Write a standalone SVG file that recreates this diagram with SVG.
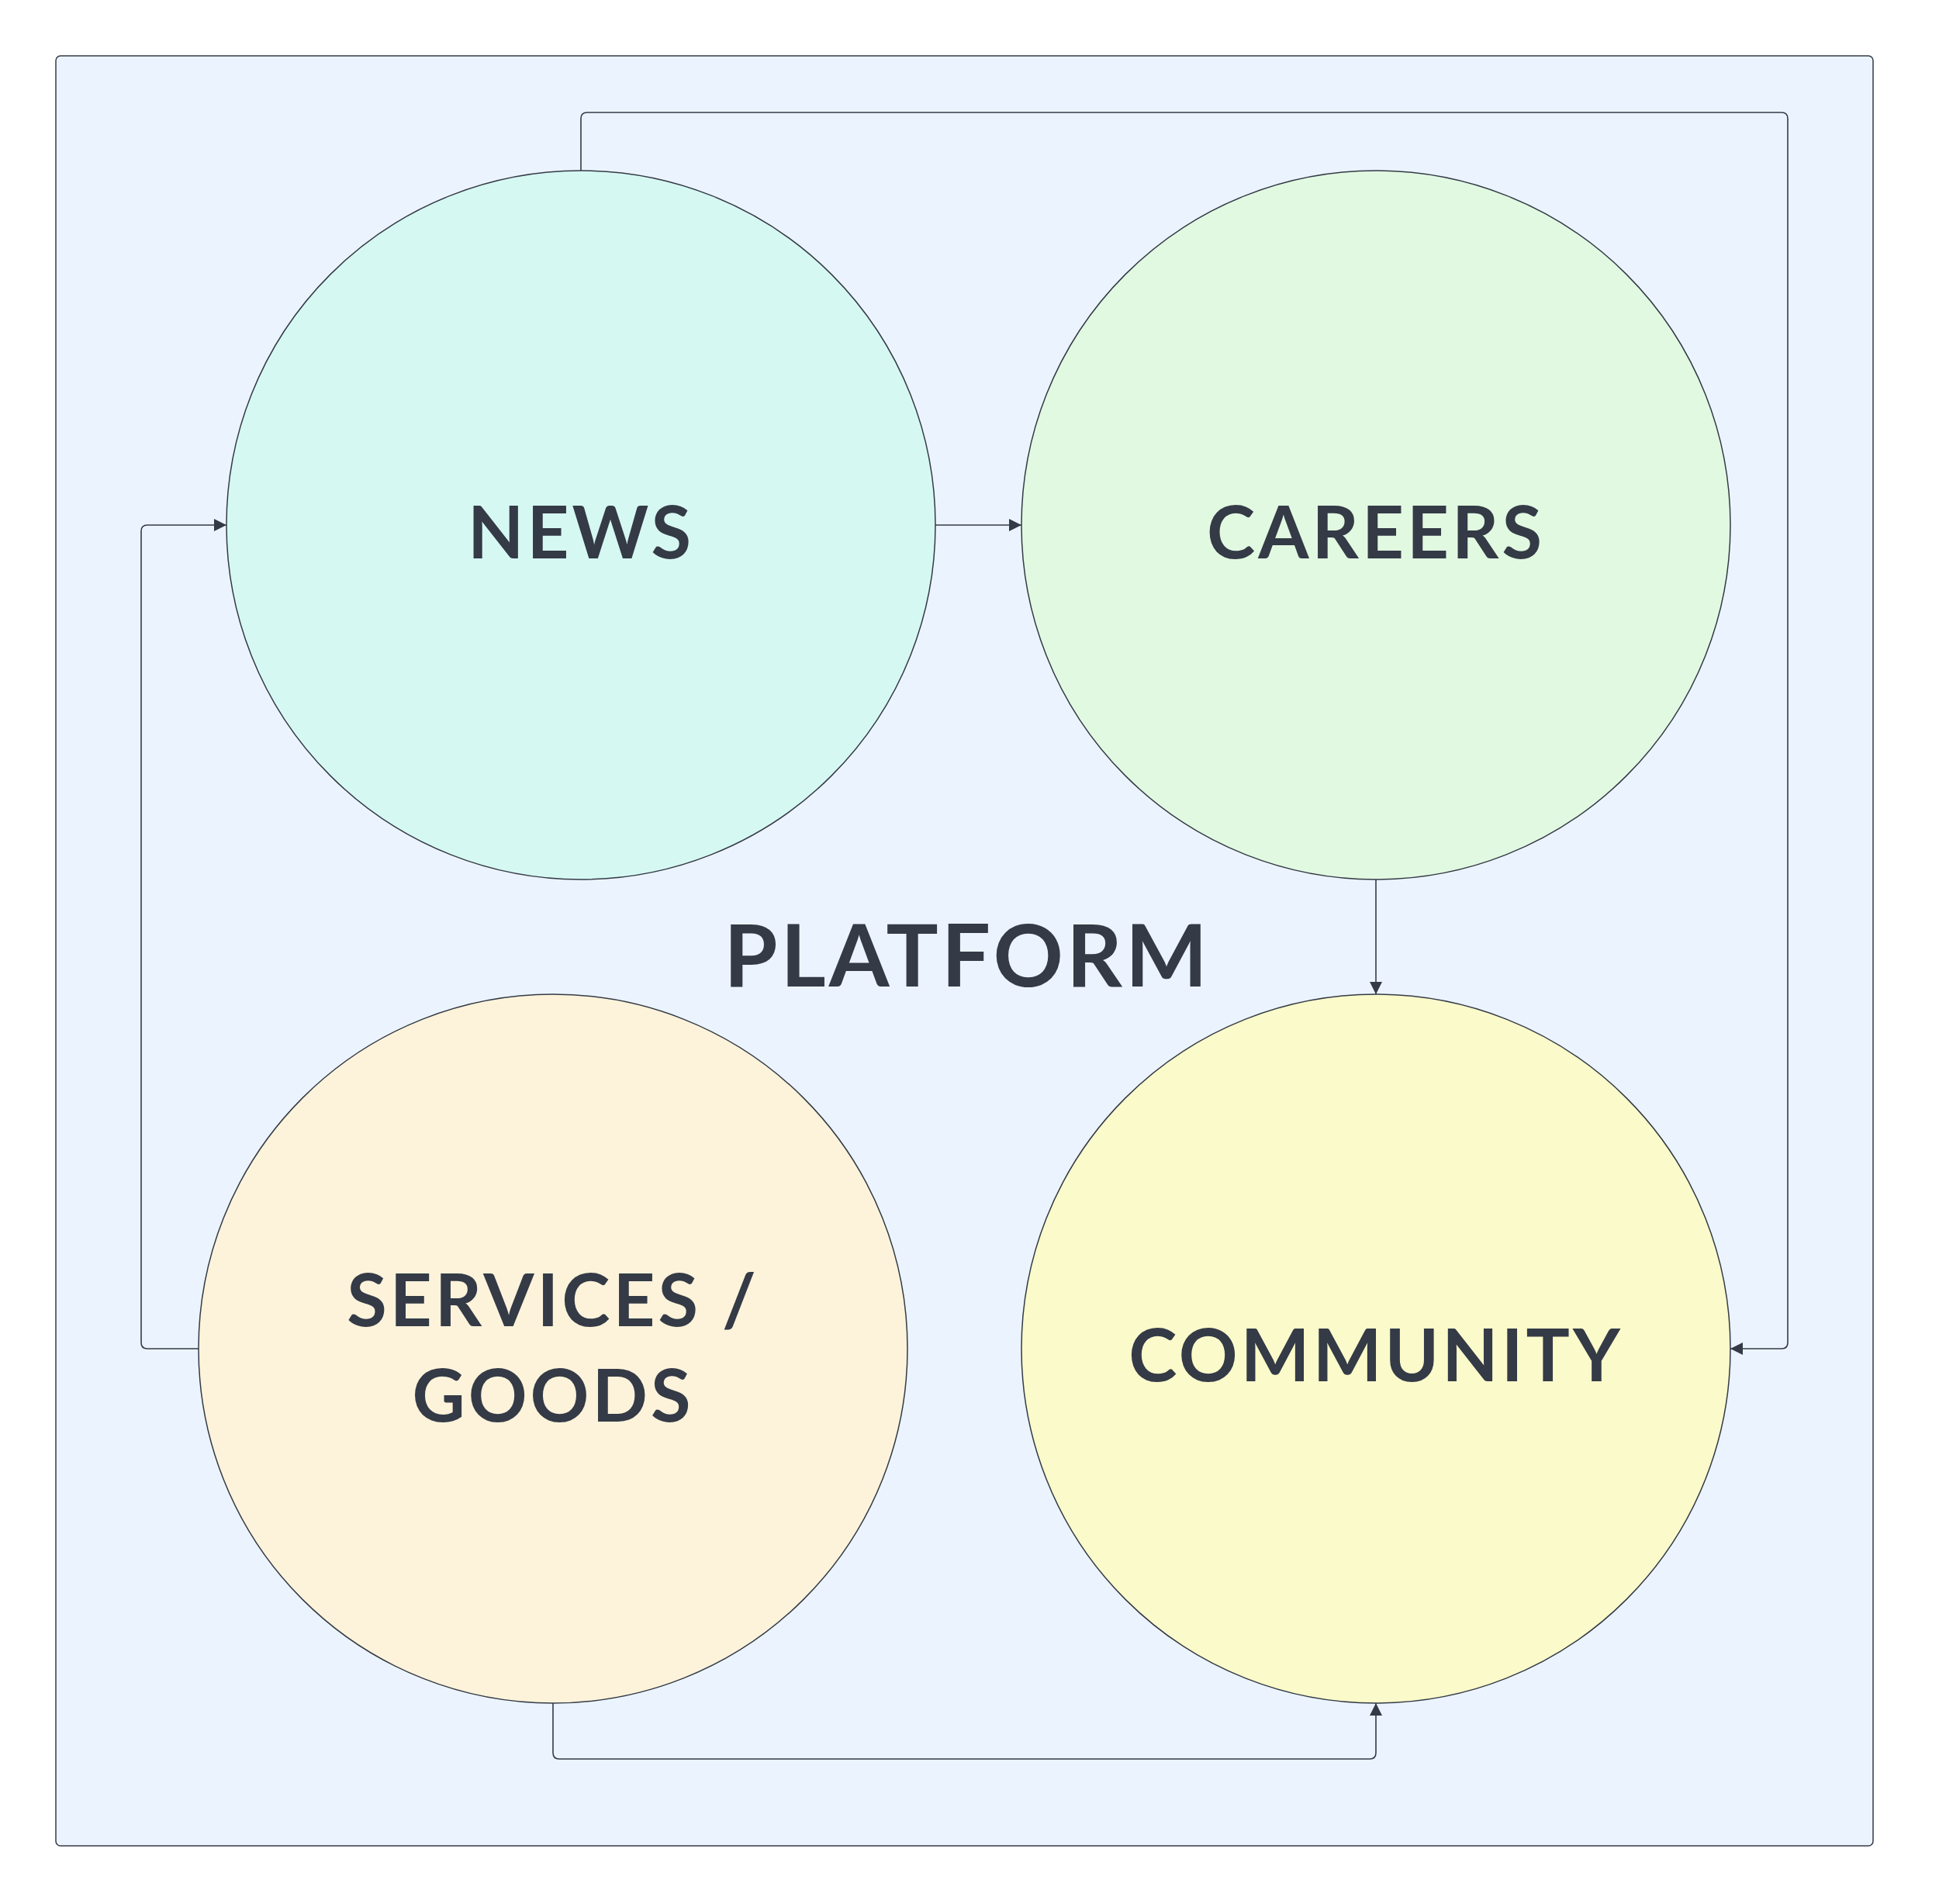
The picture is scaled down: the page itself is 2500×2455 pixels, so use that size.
<svg xmlns="http://www.w3.org/2000/svg" width="2500" height="2455" viewBox="0 0 2500 2455">
<defs>
<marker id="arr" viewBox="0 0 10 10" refX="10" refY="5" markerWidth="18" markerHeight="16" markerUnits="userSpaceOnUse" orient="auto"><path d="M0,0L10,5L0,10z" fill="#343a46"/></marker>
<style>
.c{stroke:#343a46;stroke-width:1.5}
.t{font-family:"Lato","Noto Sans",sans-serif;font-weight:bold;fill:#343a46;text-anchor:middle;font-size:94px;letter-spacing:4px}
.e{fill:none;stroke:#343a46;stroke-width:1.6;marker-end:url(#arr)}
</style>
</defs>
<rect width="2500" height="2455" fill="#fff"/>
<g id="platform">
<rect x="72" y="72" width="2343" height="2308" rx="6" fill="#ebf4fe" stroke="#343a46" stroke-width="1.5"/>
<text class="t" x="1247" y="1272" style="font-size:112px">PLATFORM</text>
</g>
<g id="connectors">
<path class="e" d="M1206,677H1317"/>
<path class="e" d="M1774,1134V1282"/>
<path class="e" d="M749,220V153Q749,145 757,145H2297Q2305,145 2305,153V1731Q2305,1739 2297,1739H2231"/>
<path class="e" d="M256,1739H190Q182,1739 182,1731V685Q182,677 190,677H292"/>
<path class="e" d="M713,2196V2260Q713,2268 721,2268H1766Q1774,2268 1774,2260V2196"/>
</g>
<g id="news"><circle class="c" cx="749" cy="677" r="457" fill="#d6f8f2"/><text class="t" x="749" y="720">NEWS</text></g>
<g id="careers"><circle class="c" cx="1774" cy="677" r="457" fill="#e1f9e1"/><text class="t" x="1774" y="720">CAREERS</text></g>
<g id="services"><circle class="c" cx="713" cy="1739" r="457" fill="#fdf3da"/><text class="t" x="713" y="1710">SERVICES /</text><text class="t" x="713" y="1833">GOODS</text></g>
<g id="community"><circle class="c" cx="1774" cy="1739" r="457" fill="#fafaca"/><text class="t" x="1774" y="1781">COMMUNITY</text></g>
</svg>
